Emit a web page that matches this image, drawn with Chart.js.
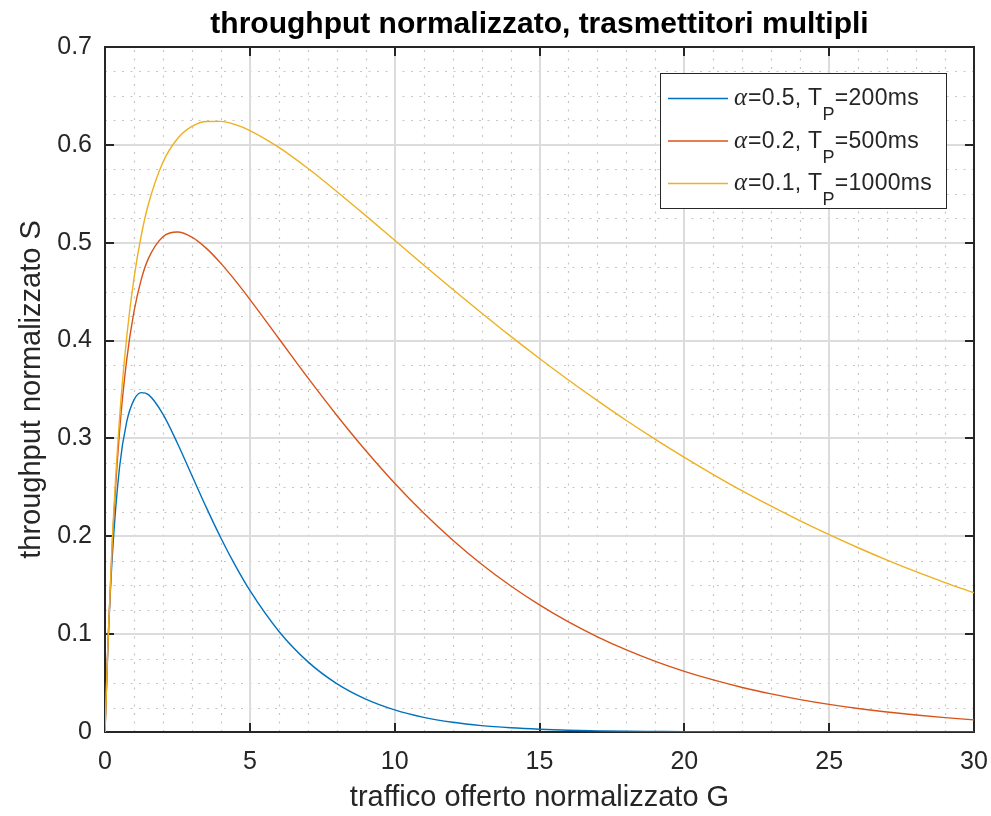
<!DOCTYPE html>
<html lang="it">
<head>
<meta charset="utf-8">
<title>throughput normalizzato, trasmettitori multipli</title>
<script src="https://cdn.jsdelivr.net/npm/chart.js@4.4.1/dist/chart.umd.min.js"></script>
<style>
  html, body { margin: 0; padding: 0; background: #fff; }
  canvas { display: block; }
</style>
</head>
<body>
<canvas id="grafico" width="991" height="816"></canvas>
<script>
// Testi
const titolo = 'throughput normalizzato, trasmettitori multipli';
const etichettaX = 'traffico offerto normalizzato G';
const etichettaY = 'throughput normalizzato S';

// Traffico offerto G (asse x) e throughput S per ciascun alfa
const trafficoG = [0, 0.1, 0.25, 0.5, 0.75, 1, 1.25, 1.5, 2, 2.5, 3, 3.5, 4, 4.5, 5,
  6, 7, 8, 9, 10, 11, 12, 13, 14, 15, 16, 17, 18, 19, 20,
  21, 22, 23, 24, 25, 26, 27, 28, 29, 30];

const sAlfa05 = [0, 0.0867, 0.1786, 0.2700, 0.3171, 0.3394, 0.3468, 0.3448, 0.3249, 0.2951, 0.2621, 0.2293, 0.1983, 0.1700, 0.1447,
  0.1030, 0.0719, 0.0494, 0.0336, 0.0226, 0.0150, 0.0099, 0.0065, 0.0043, 0.0028, 0.0018, 0.0012, 0.0007, 0.0005, 0.0003,
  0.0002, 0.0001, 0.0001, 0.0001, 0, 0, 0, 0, 0, 0];

const sAlfa02 = [0, 0.0892, 0.1912, 0.3066, 0.3805, 0.4295, 0.4623, 0.4840, 0.5062, 0.5110, 0.5057, 0.4942, 0.4789, 0.4612, 0.4421,
  0.4021, 0.3621, 0.3237, 0.2876, 0.2542, 0.2238, 0.1963, 0.1715, 0.1495, 0.1299, 0.1125, 0.0973, 0.0839, 0.0722, 0.0620,
  0.0532, 0.0455, 0.0389, 0.0331, 0.0282, 0.0240, 0.0204, 0.0173, 0.0147, 0.0124];

const sAlfa01 = [0, 0.0900, 0.1955, 0.3197, 0.4039, 0.4636, 0.5072, 0.5395, 0.5822, 0.6062, 0.6188, 0.6239, 0.6240, 0.6206, 0.6146,
  0.5974, 0.5761, 0.5524, 0.5277, 0.5025, 0.4773, 0.4525, 0.4282, 0.4045, 0.3817, 0.3597, 0.3386, 0.3183, 0.2990, 0.2806,
  0.2631, 0.2464, 0.2307, 0.2157, 0.2016, 0.1883, 0.1757, 0.1638, 0.1527, 0.1422];

const alfaValori = ['0.5', '0.2', '0.1'];
const tempiTP = ['200ms', '500ms', '1000ms'];

// Tacche principali degli assi
const tickG = [0, 5, 10, 15, 20, 25, 30];
const tickS = [0, 0.1, 0.2, 0.3, 0.4, 0.5, 0.6, 0.7];
const passoMinoreG = 1;
const passoMinoreS = 0.025;

const coloriSerie = ['#0072BD', '#D95319', '#EDB120'];
const FONT = '"Liberation Sans", Arial, Helvetica, sans-serif';
const GRIGIO_ASSI = '#262626';

// griglia principale/minore, riquadro e tacche verso l'interno (stile matlab)
const grigliaRiquadro = {
  id: 'grigliaRiquadro',
  beforeDatasetsDraw(chart) {
    const { ctx, chartArea: a, scales: { x, y } } = chart;
    ctx.save();

    // minore, puntinata
    ctx.strokeStyle = '#c6c6c6';
    ctx.lineWidth = 1.2;
    ctx.setLineDash([2, 6.5]);
    ctx.beginPath();
    for (let g = x.min + passoMinoreG; g < x.max; g += passoMinoreG) {
      if (tickG.includes(Math.round(g))) continue;
      const px = Math.round(x.getPixelForValue(g)) + 0.5;
      ctx.moveTo(px, a.bottom); ctx.lineTo(px, a.top);
    }
    for (let k = 1; k * passoMinoreS < y.max - 1e-9; k++) {
      if (k % 4 === 0) continue;
      const py = Math.round(y.getPixelForValue(k * passoMinoreS)) + 0.5;
      ctx.moveTo(a.left, py); ctx.lineTo(a.right, py);
    }
    ctx.stroke();

    // principale, continua
    ctx.setLineDash([]);
    ctx.strokeStyle = '#dcdcdc';
    ctx.lineWidth = 2;
    ctx.beginPath();
    x.ticks.forEach(t => {
      const px = Math.round(x.getPixelForValue(t.value));
      ctx.moveTo(px, a.bottom); ctx.lineTo(px, a.top);
    });
    y.ticks.forEach(t => {
      const py = Math.round(y.getPixelForValue(t.value));
      ctx.moveTo(a.left, py); ctx.lineTo(a.right, py);
    });
    ctx.stroke();

    // riquadro e tacche
    const lt = 9;
    ctx.strokeStyle = GRIGIO_ASSI;
    ctx.lineWidth = 2;
    ctx.beginPath();
    x.ticks.forEach(t => {
      const px = Math.round(x.getPixelForValue(t.value));
      ctx.moveTo(px, a.bottom); ctx.lineTo(px, a.bottom - lt);
      ctx.moveTo(px, a.top); ctx.lineTo(px, a.top + lt);
    });
    y.ticks.forEach(t => {
      const py = Math.round(y.getPixelForValue(t.value));
      ctx.moveTo(a.left, py); ctx.lineTo(a.left + lt, py);
      ctx.moveTo(a.right, py); ctx.lineTo(a.right - lt, py);
    });
    ctx.stroke();
    ctx.strokeRect(Math.round(a.left), Math.round(a.top),
      Math.round(a.right - a.left), Math.round(a.bottom - a.top));
    ctx.restore();
  }
};

// legenda con alfa in corsivo e pedice P
const legenda = {
  id: 'legenda',
  afterDatasetsDraw(chart) {
    const { ctx, chartArea: a } = chart;
    const w = 287, h = 136;
    const left = Math.round(a.right) - 27 - w;
    const top = Math.round(a.top) + 26;
    ctx.save();
    ctx.fillStyle = '#fff';
    ctx.fillRect(left, top, w, h);
    ctx.strokeStyle = GRIGIO_ASSI;
    ctx.lineWidth = 1;
    ctx.strokeRect(left + 0.5, top + 0.5, w - 1, h - 1);

    alfaValori.forEach((alfa, i) => {
      const yLinea = top + 25.5 + i * 42.5;
      const base = top + 32 + i * 42.5;
      ctx.strokeStyle = coloriSerie[i];
      ctx.lineWidth = 1.4;
      ctx.beginPath();
      ctx.moveTo(left + 8, yLinea); ctx.lineTo(left + 68, yLinea);
      ctx.stroke();

      let x = left + 74;
      ctx.fillStyle = GRIGIO_ASSI;
      ctx.textBaseline = 'alphabetic';
      ctx.letterSpacing = '0px';
      ctx.font = 'italic 25px "Liberation Serif", serif';
      ctx.fillText('α', x, base);
      x += ctx.measureText('α').width + 1;

      ctx.letterSpacing = '0.3px';
      ctx.font = '23px ' + FONT;
      const pezzo = '=' + alfa + ', T';
      ctx.fillText(pezzo, x, base);
      x += ctx.measureText(pezzo).width;

      ctx.font = '18px ' + FONT;
      ctx.fillText('P', x, base + 15);
      x += ctx.measureText('P').width;

      ctx.font = '23px ' + FONT;
      ctx.fillText('=' + tempiTP[i], x, base);
    });
    ctx.restore();
  }
};

// titolo centrato sull'area del grafico
const titoloCentrato = {
  id: 'titoloCentrato',
  afterDraw(chart) {
    const { ctx, chartArea: a } = chart;
    ctx.save();
    ctx.font = 'bold 30px ' + FONT;
    ctx.fillStyle = '#000';
    ctx.textAlign = 'center';
    ctx.textBaseline = 'alphabetic';
    ctx.fillText(titolo, (a.left + a.right) / 2, 33);
    ctx.restore();
  }
};

const serie = [sAlfa05, sAlfa02, sAlfa01];
const datasets = serie.map((s, i) => ({
  label: `α=${alfaValori[i]}, TP=${tempiTP[i]}`,
  data: trafficoG.map((g, k) => ({ x: g, y: s[k] })),
  borderColor: coloriSerie[i],
  borderWidth: 1.4,
  pointRadius: 0,
  showLine: true,
  fill: false,
  cubicInterpolationMode: 'monotone',
  order: serie.length - 1 - i
}));

new Chart(document.getElementById('grafico'), {
  type: 'scatter',
  data: { datasets },
  options: {
    responsive: false,
    animation: false,
    layout: { padding: { top: 47, right: 17, bottom: 0, left: 0 } },
    plugins: {
      legend: { display: false },
      tooltip: { enabled: false },
      title: { display: false }
    },
    scales: {
      x: {
        type: 'linear',
        min: 0,
        max: 30,
        afterBuildTicks: s => { s.ticks = tickG.map(v => ({ value: v })); },
        // le etichette estreme possono uscire dall'area: niente margini extra
        afterFit: s => { s.height = 84; s.paddingLeft = 0; s.paddingRight = 0; },
        grid: { display: false, drawTicks: false },
        border: { display: false },
        ticks: {
          color: GRIGIO_ASSI,
          font: { family: FONT, size: 25 },
          padding: 15,
          maxRotation: 0,
          autoSkip: false
        },
        title: {
          display: true,
          text: etichettaX,
          color: GRIGIO_ASSI,
          font: { family: FONT, size: 29 },
          padding: { top: 0, bottom: 1 }
        }
      },
      y: {
        type: 'linear',
        min: 0,
        max: 0.7,
        afterBuildTicks: s => { s.ticks = tickS.map(v => ({ value: v })); },
        afterFit: s => { s.width = 105; s.paddingTop = 0; s.paddingBottom = 0; },
        grid: { display: false, drawTicks: false },
        border: { display: false },
        ticks: {
          color: GRIGIO_ASSI,
          font: { family: FONT, size: 25 },
          padding: 13,
          autoSkip: false
        },
        title: {
          display: true,
          text: etichettaY,
          color: GRIGIO_ASSI,
          font: { family: FONT, size: 29 },
          padding: { top: 15, bottom: 0 }
        }
      }
    }
  },
  plugins: [grigliaRiquadro, legenda, titoloCentrato]
});
</script>
</body>
</html>
